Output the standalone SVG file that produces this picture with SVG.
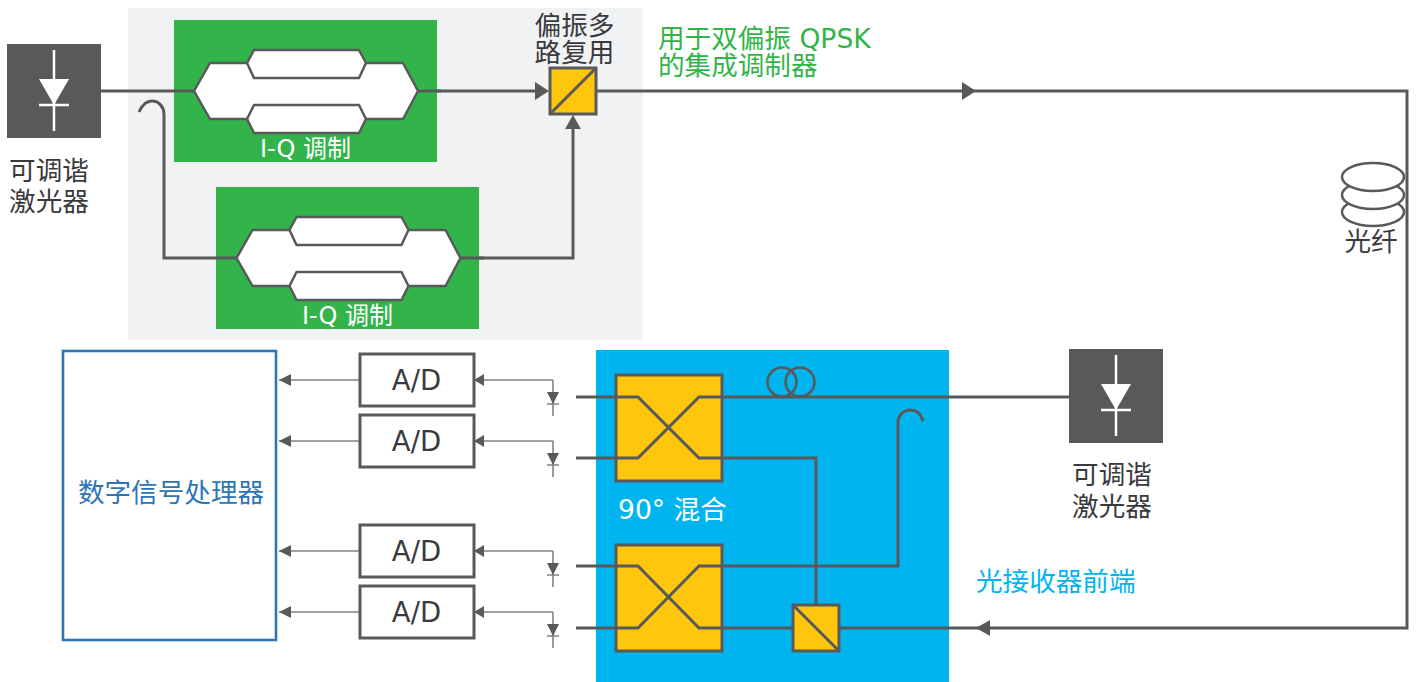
<svg xmlns="http://www.w3.org/2000/svg" xmlns:xlink="http://www.w3.org/1999/xlink" width="1416" height="682" viewBox="0 0 1416 682">
<style>
text{font-family:"DejaVu Sans","Noto Sans CJK SC",sans-serif;font-size:26.6px;fill:#3a3a3c}
.m{text-anchor:middle}
.iq{font-size:24px;fill:#fff;text-anchor:middle}
.adt{font-size:27.5px;text-anchor:middle}
.gr{fill:#33b44a}
.bl{fill:#00b5ef}
.ln{fill:none;stroke:#58595b;stroke-width:3}
.thin{fill:none;stroke:#808285;stroke-width:1.6}
.box{fill:#fec60c;stroke:#58595b;stroke-width:3}
.ad{fill:#fff;stroke:#58595b;stroke-width:3}
.ah{fill:#58595b}
.sym{fill:none;stroke:#fff;stroke-width:2.5}
.mzm{fill:#fff;stroke:#58595b;stroke-width:2.5;stroke-linejoin:round}
.coil{fill:#fff;stroke:#58595b;stroke-width:2.5}
</style>
<defs>
<g id="laser">
<rect x="0" y="0" width="94" height="94" fill="#58595b"/>
<path class="sym" d="M47 6V87M32 61H62"/>
<path d="M32 35H62L47 61Z" fill="#fff"/>
</g>
<g id="iq">
<path class="mzm" d="M0 42L16 14H53L60 1H165L172 14H209L224 42L209 70H172L165 84H60L53 70H16Z"/>
<path class="mzm" fill="none" d="M53 14L60 29H165L172 14M53 70L60 56H165L172 70"/>
</g>
<g id="pd">
<path class="thin" d="M0 -17V19M-6 7H6"/>
<path class="ah" d="M-6 -5H6L0 7Z"/>
</g>
</defs>
<rect id="panel" x="128" y="8" width="515" height="332" fill="#f1f2f4"/>
<rect id="front-end" x="596" y="350" width="353" height="332" class="bl"/>

<g id="connectors">
<path class="ln" d="M101 91H194M418 91H537"/>
<path class="ln" d="M596 91H1407V628H839"/>
<path class="ln" d="M139 112C142 105 147 101 152 101C159 101 164 107 164 114V258H236"/>
<path class="ln" d="M461 258H573V126"/>
<path class="ah" d="M535 82L549 91L535 100Z"/>
<path class="ah" d="M565 129L573 115L581 129Z"/>
<path class="ah" d="M962 82L976 91L962 100Z"/>
<path class="ah" d="M990 620L976 628L990 636Z"/>
<path class="thin" d="M359 380H279M359 441H279M359 551H279M359 612H279"/>
<path class="ah" d="M291 374L279 380L291 386Z"/>
<path class="ah" d="M291 435L279 441L291 447Z"/>
<path class="ah" d="M291 545L279 551L291 557Z"/>
<path class="ah" d="M291 606L279 612L291 618Z"/>
<path class="thin" d="M480 380H553M480 441H553M480 551H553M480 612H553"/>
<path class="ah" d="M484 374L474 380L484 386Z"/>
<path class="ah" d="M484 435L474 441L484 447Z"/>
<path class="ah" d="M484 545L474 551L484 557Z"/>
<path class="ah" d="M484 606L474 612L484 618Z"/>
</g>

<g id="laser-tx"><use xlink:href="#laser" href="#laser" x="7" y="44"/>
<text x="49" y="180" class="m">可调谐</text><text x="49" y="211" class="m">激光器</text></g>

<g id="iq-1">
<rect x="174" y="20" width="263" height="142" class="gr"/>
<use xlink:href="#iq" href="#iq" x="194" y="49"/>
<path class="ln" d="M174 91H194M418 91H441"/>
<text x="305.500" y="157" class="iq">I-Q 调制</text>
</g>
<g id="iq-2">
<rect x="216" y="187" width="263" height="142" class="gr"/>
<use xlink:href="#iq" href="#iq" x="236.500" y="216"/>
<path class="ln" d="M216 258H236M461 258H484"/>
<text x="347.500" y="324" class="iq">I-Q 调制</text>
</g>

<g id="pol-mux">
<rect x="550" y="68" width="46" height="46" class="box"/>
<path class="ln" d="M550 114L596 68"/>
<text x="574.500" y="35" class="m">偏振多</text><text x="574.500" y="62" class="m">路复用</text>
</g>
<text id="label-integrated" x="658" y="48" style="fill:#33b44a">用于双偏振 QPSK</text>
<text id="label-integrated-2" x="658" y="75" style="fill:#33b44a">的集成调制器</text>

<g id="fiber">
<ellipse cx="1373" cy="212" rx="31" ry="14" class="coil"/>
<ellipse cx="1373" cy="195" rx="31" ry="14" class="coil"/>
<ellipse cx="1373" cy="177" rx="31" ry="14" class="coil"/>
<text x="1371" y="251" class="m">光纤</text>
</g>

<g id="dsp">
<rect x="63" y="351" width="213" height="289" fill="#fff" stroke="#2e75b6" stroke-width="2.6"/>
<text x="171" y="502" class="m" style="fill:#2e75b6">数字信号处理器</text>
</g>

<g id="ad-1"><rect x="360" y="354" width="114" height="52" class="ad"/><text x="416.500" y="390" class="adt">A/D</text></g>
<g id="ad-2"><rect x="360" y="415" width="114" height="52" class="ad"/><text x="416.500" y="451" class="adt">A/D</text></g>
<g id="ad-3"><rect x="360" y="525" width="114" height="52" class="ad"/><text x="416.500" y="561" class="adt">A/D</text></g>
<g id="ad-4"><rect x="360" y="586" width="114" height="52" class="ad"/><text x="416.500" y="622" class="adt">A/D</text></g>

<g id="pd-1"><use xlink:href="#pd" href="#pd" x="553" y="397"/></g>
<g id="pd-2"><use xlink:href="#pd" href="#pd" x="553" y="458"/></g>
<g id="pd-3"><use xlink:href="#pd" href="#pd" x="553" y="568"/></g>
<g id="pd-4"><use xlink:href="#pd" href="#pd" x="553" y="629"/></g>

<g id="hybrid-1"><rect x="616" y="375" width="106" height="106" class="box"/></g>
<g id="hybrid-2"><rect x="616" y="545" width="106" height="106" class="box"/></g>
<text id="label-hybrid" x="618" y="519" style="fill:#fff">90° 混合</text>

<g id="pbs"><rect x="793" y="605" width="46" height="46" class="box"/>
<path class="ln" d="M793 605L839 651"/></g>

<g id="rx-lines">
<path class="ln" d="M576 397H638L699 458H816V605"/>
<path class="ln" d="M576 458H638L699 397H1069"/>
<path class="ln" d="M576 566H638L699 628H793"/>
<path class="ln" d="M576 628H638L699 566H898V422C898 415 904 410 910 410C916 410 921 414 923 421"/>
<circle cx="782" cy="382" r="14.5" fill="none" stroke="#58595b" stroke-width="2.5"/>
<circle cx="800" cy="382" r="14.5" fill="none" stroke="#58595b" stroke-width="2.5"/>
</g>

<g id="laser-lo"><use xlink:href="#laser" href="#laser" x="1069" y="349"/>
<text x="1112" y="484" class="m">可调谐</text><text x="1112" y="516" class="m">激光器</text></g>

<text id="label-rx" x="976" y="591" style="fill:#00b5ef">光接收器前端</text>
</svg>
